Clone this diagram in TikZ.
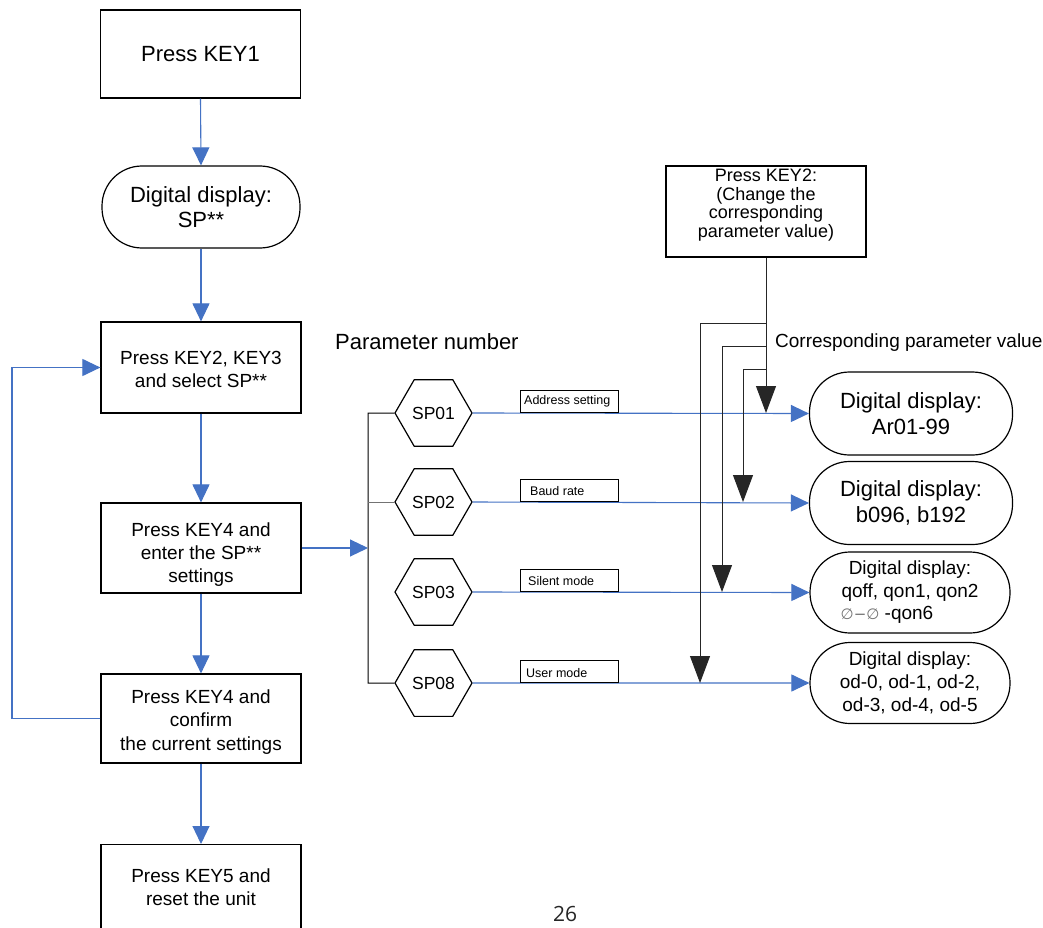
\documentclass[tikz,border=0pt]{standalone}
\usepackage{fontspec}
\setmainfont{Liberation Sans}
\newfontfamily\pnfont{Open Sans}
\newfontfamily\symfont{DejaVu Sans}
\usetikzlibrary{arrows.meta,shapes.geometric}
\definecolor{lblue}{RGB}{68,114,196}
\newcommand{\fs}[2]{\fontsize{#1}{#2}\selectfont}
\begin{document}
\begin{tikzpicture}[x=1pt,y=-1pt,
  box/.style={draw=black,line width=1.2pt,minimum width=200pt,inner sep=0pt},
  txt/.style={align=center,inner sep=0pt},
  pill/.style={draw=black,line width=1.2pt,rounded corners=40pt,align=center,inner sep=0pt},
  hex/.style={draw=black,line width=1.2pt,regular polygon,regular polygon sides=6,minimum size=77pt,inner sep=0pt,font=\fs{17.5}{20}},
  lab/.style={draw=black,line width=1pt,fill=white,minimum width=98pt,minimum height=22pt,inner sep=0pt,anchor=south west},
  barrow/.style={draw=lblue,line width=1.1pt,-{Triangle[length=18pt,width=17pt]}},
  karrow/.style={draw=black!85,line width=1pt,-{Triangle[length=27pt,width=20pt]}},
  kline/.style={draw=black!85,line width=1pt}]
\useasboundingbox[fill=white] (0,0) rectangle (1043,928);

% left column
\node[box,minimum height=88pt,txt,font=\fs{22}{26}] (b1) at (200.5,54) {Press KEY1};
\node[pill,minimum width=198pt,minimum height=82pt,font=\fs{22}{25}] (p0) at (201,207) {Digital display:\\SP**};
\node[box,minimum height=91pt] (b3) at (201,367.5) {};
\node[txt,font=\fs{19}{23}] (t3) at (201,369) {Press KEY2, KEY3\\and select SP**};
\node[box,minimum height=90pt] (b4) at (201,548) {};
\node[txt,font=\fs{19}{23}] (t4) at (201,555) {Press KEY4 and\\enter the SP**\\settings};
\node[box,minimum height=89pt] (b5) at (201,718.5) {};
\node[txt,font=\fs{19}{23.5}] (t5) at (201,722) {Press KEY4 and\\confirm\\the current settings};
\node[box,minimum height=116pt,anchor=north] (b6) at (201,844) {};
\node[txt,font=\fs{19}{22.5}] (t6) at (201,887) {Press KEY5 and\\reset the unit};

\draw[barrow] (b1.south) -- (p0.north);
\draw[barrow] (p0.south) -- (b3.north);
\draw[barrow] (b3.south) -- (b4.north);
\draw[barrow] (b4.south) -- (b5.north);
\draw[barrow] (b5.south) -- (b6.north);
\coordinate (fb) at (12,718.5);
\draw[barrow] (b5.west) -- (b5.west -| fb) |- (b3.west);

% parameter section
\node[anchor=west,inner sep=0pt,font=\fs{22}{26}] (pn) at (335,342) {Parameter number};
\node[hex] (h1) at (433.5,413) {SP01};
\node[hex] (h2) at (433.5,502) {SP02};
\node[hex] (h3) at (433.5,592) {SP03};
\node[hex] (h4) at (433.5,683) {SP08};

\coordinate (busT) at (368,413);
\coordinate (busB) at (368,683);
\coordinate (busM) at (368,548);
\draw[kline,draw=black] (h1.west) -- (busT) -- (busB) -- (h4.west);
\draw[kline,draw=black!55] (h2.west) -- (h2.west -| busT);
\draw[barrow] (b4.east) -- (busM);

% right pills
\node[pill,minimum width=203pt,minimum height=83pt,font=\fs{22}{26}] (r1) at (911,413.5) {Digital display:\\Ar01-99};
\node[pill,minimum width=203pt,minimum height=83pt,font=\fs{22}{26}] (r2) at (911,503) {Digital display:\\b096, b192};
\node[pill,minimum width=200pt,minimum height=81pt,font=\fs{19}{22.5}] (r3) at (910,592.5) {Digital display:\\qoff, qon1, qon2\\\hspace*{-46pt}{\symfont\fs{15}{22.5}\color{black!55}∅−∅} -qon6};
\node[pill,minimum width=200pt,minimum height=81pt,font=\fs{19}{23}] (r4) at (910,683) {Digital display:\\od-0, od-1, od-2,\\od-3, od-4, od-5};

\draw[barrow] (h1.east) -- (r1.west);
\draw[barrow] (h2.east) -- (r2.west);
\draw[barrow] (h3.east) -- (r3.west);
\draw[barrow] (h4.east) -- (r4.west);

% labels on the lines
\node[lab] (l1) at (520,413) {};
\node[anchor=west,inner sep=0pt,font=\fs{12.5}{14}] (l1t) at (524,401) {Address setting};
\node[lab] (l2) at (520,502) {};
\node[anchor=west,inner sep=0pt,font=\fs{12.5}{14}] (l2t) at (530,491) {Baud rate};
\node[lab] (l3) at (520,592) {};
\node[anchor=west,inner sep=0pt,font=\fs{12.5}{14}] (l3t) at (528,581) {Silent mode};
\node[lab] (l4) at (520,683) {};
\node[anchor=west,inner sep=0pt,font=\fs{12.5}{14}] (l4t) at (526,673) {User mode};

% KEY2 box and its arrows
\node[box,minimum height=91pt] (k2) at (766,211.5) {};
\node[txt,font=\fs{18}{18.5}] (k2t) at (766,205) {Press KEY2:\\(Change the\\corresponding\\parameter value)};
\node[anchor=west,inner sep=0pt,font=\fs{19}{22}] (cpv) at (775,343) {Corresponding parameter value};

\coordinate (j1) at (766,323);
\coordinate (j2) at (766,346);
\coordinate (j3) at (766,369);
\coordinate (a1) at (766,413);
\coordinate (a2) at (743,502);
\coordinate (a3) at (722,592);
\coordinate (a4) at (700,683);
\draw[karrow] (k2.south) -- (a1);
\draw[karrow] (j1) -| (a4);
\draw[karrow] (j2) -| (a3);
\draw[karrow] (j3) -| (a2);

% page number
\node[inner sep=0pt,font=\pnfont\fs{21}{24},text=black!85] (pg) at (565,914) {26};
\end{tikzpicture}
\end{document}
